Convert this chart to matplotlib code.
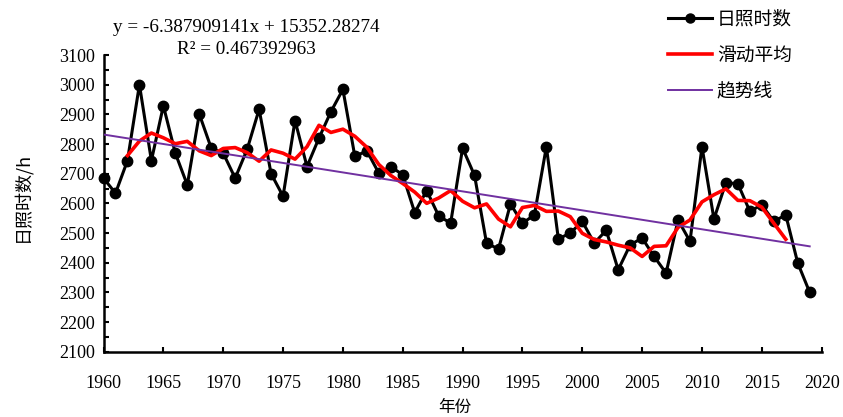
import numpy as np
import matplotlib.pyplot as plt
from matplotlib.ticker import MultipleLocator

years = list(range(1960, 2020))
sunshine = [2685, 2634, 2744, 3000, 2744, 2929, 2769, 2662, 2901, 2786,
            2769, 2685, 2782, 2917, 2700, 2624, 2879, 2724, 2820, 2909,
            2984, 2758, 2777, 2702, 2724, 2696, 2569, 2643, 2558, 2533,
            2786, 2694, 2466, 2446, 2598, 2533, 2561, 2791, 2480, 2500,
            2539, 2466, 2509, 2376, 2460, 2483, 2421, 2365, 2544, 2472,
            2791, 2547, 2670, 2666, 2573, 2595, 2539, 2561, 2399, 2300]

ma_years = list(range(1962, 2018))
moving_avg = [2761, 2810, 2837, 2821, 2801, 2809, 2777, 2761, 2785, 2788,
              2771, 2742, 2780, 2769, 2749, 2791, 2863, 2839, 2850, 2826,
              2789, 2731, 2694, 2667, 2638, 2600, 2618, 2643, 2607, 2585,
              2598, 2547, 2521, 2586, 2593, 2573, 2574, 2555, 2499, 2478,
              2470, 2459, 2450, 2421, 2455, 2457, 2519, 2544, 2605, 2629,
              2649, 2610, 2609, 2587, 2533, 2479]

slope = -6.387909141
intercept = 15352.28274
r2 = 0.467392963

serif = 'Liberation Serif'
cjk = ['Noto Sans CJK SC', 'DejaVu Sans']
plt.rcParams['font.family'] = [serif, 'Noto Sans CJK SC']

fig = plt.figure(figsize=(8.43, 4.17), dpi=100)
ax = fig.add_axes([0.1228, 0.1566, 0.8519, 0.7115])

trend_x = np.array([years[0], years[-1]])
trend_y = slope * trend_x + intercept

ax.plot(years, sunshine, color='black', lw=2.2, marker='o', ms=7.5,
        clip_on=False, zorder=3, label='日照时数')
ax.plot(ma_years, moving_avg, color='#ff0000', lw=2.6, zorder=4, label='滑动平均')
ax.plot(trend_x, trend_y, color='#7030a0', lw=1.4, zorder=5, label='趋势线')

ax.set_xlim(1960, 2020)
ax.set_ylim(2100, 3100)
ax.xaxis.set_major_locator(MultipleLocator(5))
ax.yaxis.set_major_locator(MultipleLocator(100))
ax.yaxis.set_minor_locator(MultipleLocator(50))

for s in ['top', 'right']:
    ax.spines[s].set_visible(False)
for s in ['left', 'bottom']:
    ax.spines[s].set_linewidth(1.8)

ax.tick_params(which='both', direction='in', length=3.5, width=1.5)
ax.tick_params(axis='x', pad=17)
ax.tick_params(axis='y', pad=6)
for lab in ax.get_xticklabels() + ax.get_yticklabels():
    lab.set_fontfamily(serif)
    lab.set_fontsize(13)

# axis titles
fig.text(22 / 843, 1 - 197 / 417, '日照时数/h', family=cjk, fontsize=13,
         rotation=90, ha='center', va='center')
fig.text(455 / 843, 1 - 407 / 417, '年份', family=cjk, fontsize=12,
         ha='center', va='center')

fig.text(0.292, 1 - 28 / 417, 'y = %.9fx + %.5f' % (slope, intercept),
         ha='center', va='center', fontsize=13.8, family=serif)
fig.text(0.292, 1 - 49 / 417, 'R² = %.9f' % r2,
         ha='center', va='center', fontsize=13.8, family=serif)

leg = fig.legend(loc='upper left', bbox_to_anchor=(0.792, 0.980),
                 frameon=False, prop={'family': cjk, 'size': 13.5},
                 handlelength=2.35, handletextpad=0.27, labelspacing=0.8,
                 borderpad=0, borderaxespad=0)
leg.legend_handles[0].set_markersize(6.5)

fig.savefig('out.png', dpi=100)
